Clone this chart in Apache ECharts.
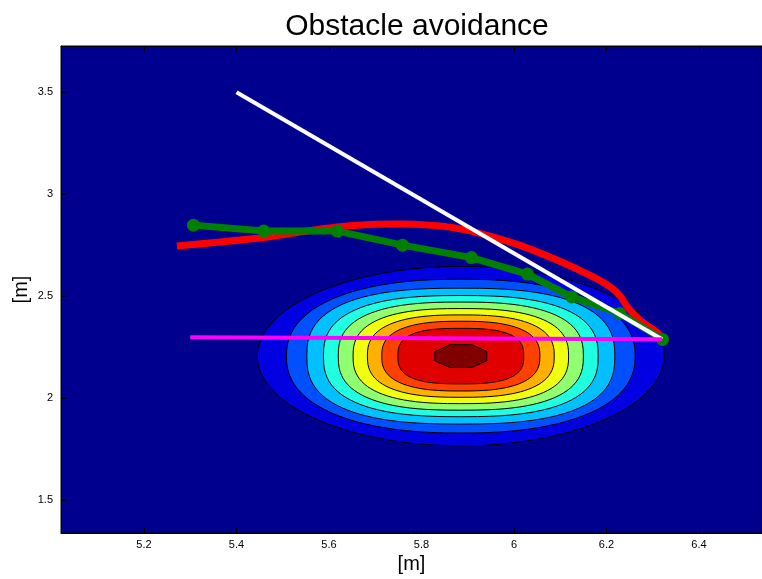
<!DOCTYPE html>
<html>
<head>
<meta charset="utf-8">
<script src="https://cdn.jsdelivr.net/npm/echarts@6/dist/echarts.min.js"></script>
<style>
  html, body { margin: 0; background: #ffffff; }
  #chart { width: 762px; height: 579px; }
</style>
</head>
<body>
<div id="chart"></div>
<script>
// tick labels
var xTicks = [5.2, 5.4, 5.6, 5.8, 6, 6.2, 6.4];
var yTicks = [1.5, 2, 2.5, 3, 3.5];

// obstacle cost field: centre and contour radii [m], outer level first
var obstacleCentre = [5.885, 2.207];
var contourRadius = [0.44, 0.377, 0.333, 0.297, 0.265, 0.233, 0.202, 0.171, 0.136, 0.056];

// straight line start -> goal (white)
var straightX = [5.4, 6.32];
var straightY = [3.5, 2.29];

// direct line (magenta)
var directX = [5.3, 6.32];
var directY = [2.3, 2.29];

// planned waypoints (green)
var plannedX = [5.307, 5.459, 5.618, 5.759, 5.908, 6.029, 6.125, 6.229, 6.321];
var plannedY = [2.849, 2.82, 2.82, 2.751, 2.69, 2.609, 2.497, 2.416, 2.289];

// driven path (red)
var drivenX = [5.271, 5.364, 5.459, 5.537, 5.618, 5.689, 5.753, 5.818, 5.868, 5.926, 6.013, 6.099, 6.171, 6.208, 6.23, 6.244, 6.272, 6.309, 6.32];
var drivenY = [2.747, 2.766, 2.788, 2.815, 2.84, 2.852, 2.854, 2.849, 2.837, 2.809, 2.75, 2.672, 2.595, 2.546, 2.5, 2.451, 2.383, 2.324, 2.295];

// jet-like fill colours, outer to inner
var levelColors = ["#0000e0", "#0050ff", "#00c0ff", "#20ffe0", "#90ff70", "#f0ff10", "#ffb000", "#ff4000", "#e00000", "#800000"];
var levelExp = [2, 2.3, 2.6, 2.6, 2.6, 2.6, 2.6, 2.6, 2.8, 0];

function pairs(xs, ys) {
  return xs.map(function (x, i) { return [x, ys[i]]; });
}

var chart = echarts.init(document.getElementById("chart"));
var font = "Liberation Sans, Arial, Helvetica, sans-serif";

chart.setOption({
  animation: false,
  title: {
    text: "Obstacle avoidance",
    left: 417,
    top: 12,
    padding: 0,
    textAlign: "center",
    textStyle: { fontFamily: font, fontSize: 30, fontWeight: "normal", color: "#000" }
  },
  grid: {
    left: 61,
    top: 46,
    width: 701,
    height: 487,
    outerBoundsMode: "none",
    show: true,
    backgroundColor: "#00008f",
    borderColor: "#000",
    borderWidth: 1
  },
  xAxis: [
    {
      type: "value",
      min: 5.0205,
      max: 6.5362,
      position: "bottom",
      name: "[m]",
      nameLocation: "middle",
      nameGap: 20,
      nameTextStyle: { fontFamily: font, fontSize: 20, color: "#000" },
      axisLine: { show: true, lineStyle: { color: "#000", width: 1 } },
      axisTick: { show: true, inside: true, length: 5, customValues: xTicks, lineStyle: { color: "#000" } },
      axisLabel: { customValues: xTicks, fontFamily: font, fontSize: 11, color: "#000", margin: 6 },
      splitLine: { show: false }
    },
    {
      type: "value",
      min: 5.0205,
      max: 6.5362,
      position: "top",
      axisLine: { show: true, lineStyle: { color: "#000", width: 1 } },
      axisTick: { show: true, inside: true, length: 5, customValues: xTicks, lineStyle: { color: "#000" } },
      axisLabel: { show: false },
      splitLine: { show: false }
    }
  ],
  yAxis: {
    type: "value",
    min: 1.34,
    max: 3.727,
    name: "[m]",
    nameLocation: "middle",
    nameGap: 30,
    nameMoveOverlap: false,
    nameTextStyle: { fontFamily: font, fontSize: 20, color: "#000" },
    axisLine: { show: true, lineStyle: { color: "#000", width: 1 } },
    axisTick: { show: true, inside: true, length: 5, customValues: yTicks, lineStyle: { color: "#000" } },
    axisLabel: { customValues: yTicks, fontFamily: font, fontSize: 11, color: "#000", margin: 8 },
    splitLine: { show: false }
  },
  series: [
    {
      type: "custom",
      name: "obstacle",
      z: 1,
      data: contourRadius.map(function (r) { return [obstacleCentre[0], obstacleCentre[1], r]; }),
      encode: { x: 0, y: 1 },
      renderItem: function (params, api) {
        var i = params.dataIndex;
        var cx = api.value(0), cy = api.value(1), r = api.value(2);
        var pts = [];
        if (levelExp[i] === 0) {
          // innermost level comes out as an octagon on the coarse grid
          for (var k = 0; k < 8; k++) {
            var a = Math.PI / 8 + k * Math.PI / 4;
            var s = r / Math.cos(Math.PI / 8);
            pts.push(api.coord([cx + s * Math.cos(a), cy + s * Math.sin(a)]));
          }
        } else {
          var e = 2 / levelExp[i];
          for (var j = 0; j < 96; j++) {
            var t = j * 2 * Math.PI / 96;
            var c = Math.cos(t), sn = Math.sin(t);
            var px = cx + r * Math.sign(c) * Math.pow(Math.abs(c), e);
            var py = cy + r * Math.sign(sn) * Math.pow(Math.abs(sn), e);
            pts.push(api.coord([px, py]));
          }
        }
        return {
          type: "polygon",
          shape: { points: pts },
          style: { fill: levelColors[i], stroke: "#000", lineWidth: 1 }
        };
      }
    },
    {
      type: "line",
      name: "driven",
      z: 3,
      data: pairs(drivenX, drivenY),
      smooth: 0.3,
      symbol: "none",
      lineStyle: { color: "#ff0000", width: 7 }
    },
    {
      type: "line",
      name: "planned",
      z: 4,
      data: pairs(plannedX, plannedY),
      symbol: "circle",
      symbolSize: 13,
      itemStyle: { color: "#008000" },
      lineStyle: { color: "#008000", width: 7 }
    },
    {
      type: "line",
      name: "straight",
      z: 5,
      data: pairs(straightX, straightY),
      symbol: "none",
      lineStyle: { color: "#ffffff", width: 4 }
    },
    {
      type: "line",
      name: "direct",
      z: 6,
      data: pairs(directX, directY),
      symbol: "none",
      lineStyle: { color: "#ff00ff", width: 4 }
    }
  ]
});
</script>
</body>
</html>
